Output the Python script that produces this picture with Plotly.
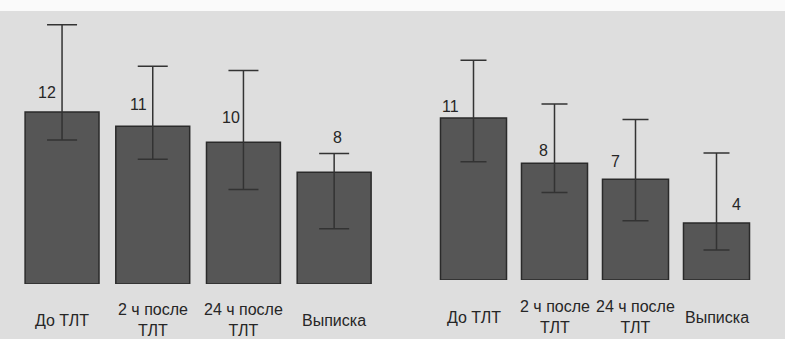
import plotly.graph_objects as go

categories = ["До ТЛТ", "2 ч после<br>ТЛТ", "24 ч после<br>ТЛТ", "Выписка"]

left_values = [12.0, 11.0, 9.9, 7.8]
left_labels = ["12", "11", "10", "8"]
left_upper = [18.1, 15.2, 14.9, 9.1]
left_lower = [10.05, 8.7, 6.6, 3.85]

right_values = [11.1, 8.0, 6.9, 3.9]
right_labels = ["11", "8", "7", "4"]
right_upper = [15.05, 12.05, 11.0, 8.7]
right_lower = [8.1, 6.0, 4.05, 2.05]

# label offsets (px) relative to bar top
left_xshift = [-15, -14, -12, 3]
left_yshift = [20, 22, 25, 35]
right_xshift = [-23, -11, -20, 20]
right_yshift = [11, 13, 18, 19]

BG = "#dedede"
BAR = "#565656"
EDGE = "#2a2a2a"
TXT = "#262626"
FONT = "Liberation Sans, Arial, sans-serif"
FS = 16

fig = go.Figure()


def add_panel(vals, up, lo, xa, ya, cap):
    fig.add_trace(go.Bar(
        x=categories, y=vals, xaxis=xa, yaxis=ya,
        marker=dict(color=BAR, line=dict(color=EDGE, width=1.5)),
        error_y=dict(type="data", symmetric=False,
                     array=[u - v for u, v in zip(up, vals)],
                     arrayminus=[v - l for v, l in zip(vals, lo)],
                     color="#333333", thickness=1.5, width=cap),
        showlegend=False, hoverinfo="skip",
    ))


add_panel(left_values, left_upper, left_lower, "x", "y", 15)
add_panel(right_values, right_upper, right_lower, "x2", "y2", 13)

annotations = []
for c, v, t, dx, dy in zip(categories, left_values, left_labels, left_xshift, left_yshift):
    annotations.append(dict(x=c, y=v, xref="x", yref="y", text=t, showarrow=False,
                            xshift=dx, yshift=dy, yanchor="middle",
                            font=dict(size=FS, color=TXT, family=FONT)))
for c, v, t, dx, dy in zip(categories, right_values, right_labels, right_xshift, right_yshift):
    annotations.append(dict(x=c, y=v, xref="x2", yref="y2", text=t, showarrow=False,
                            xshift=dx, yshift=dy, yanchor="middle",
                            font=dict(size=FS, color=TXT, family=FONT)))
for c in categories:
    annotations.append(dict(x=c, y=(339 - 320) / 339, xref="x", yref="paper", text=c,
                            showarrow=False, yanchor="middle",
                            font=dict(size=FS, color=TXT, family=FONT)))
    annotations.append(dict(x=c, y=(339 - 317) / 339, xref="x2", yref="paper", text=c,
                            showarrow=False, yanchor="middle",
                            font=dict(size=FS, color=TXT, family=FONT)))

axis_off = dict(showgrid=False, zeroline=False, showline=False, showticklabels=False, ticks="")

fig.update_layout(
    width=785, height=339,
    margin=dict(l=0, r=0, t=0, b=0),
    paper_bgcolor=BG, plot_bgcolor="rgba(0,0,0,0)",
    bargap=0.185,
    xaxis=dict(domain=[16.7 / 785, 379.5 / 785], range=[-0.5, 3.5], **axis_off),
    yaxis=dict(domain=[(339 - 284) / 339, (339 - 12) / 339], range=[0, 272 / 14.33], **axis_off),
    xaxis2=dict(domain=[433 / 785, 757 / 785], range=[-0.5, 3.5], anchor="y2", **axis_off),
    yaxis2=dict(domain=[(339 - 280) / 339, (339 - 12) / 339], range=[0, 268 / 14.6],
                anchor="x2", **axis_off),
    annotations=annotations,
    shapes=[dict(type="rect", xref="paper", yref="paper", x0=0, x1=1,
                 y0=(339 - 11) / 339, y1=1, fillcolor="#fafafa", line=dict(width=0),
                 layer="below")],
)

fig.write_html("out.html", config={"displayModeBar": False},
               post_script="document.body.style.margin='0';document.body.style.overflow='hidden';")
